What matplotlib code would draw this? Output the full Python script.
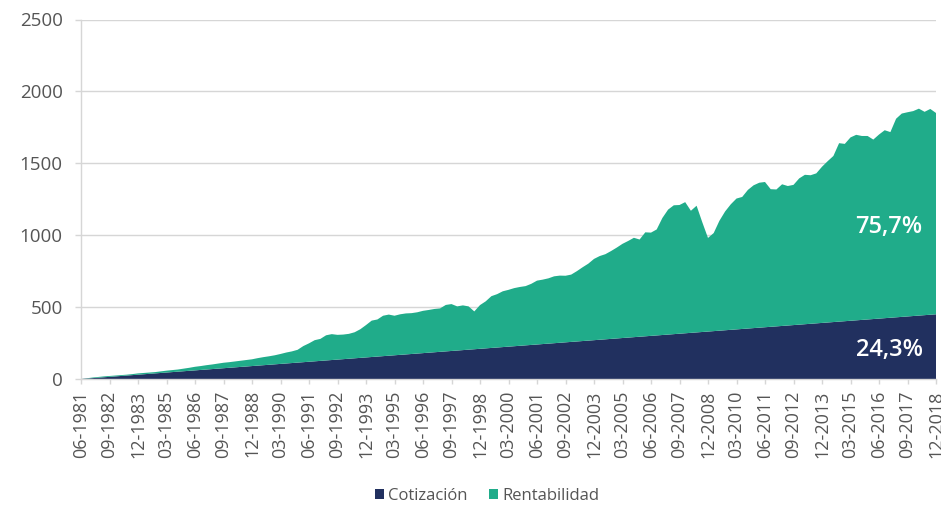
import matplotlib.pyplot as plt
from matplotlib.patches import Patch

# months since 06-1981, one point per quarter
months = list(range(0, 451, 3))

# total value (cotizacion + rentabilidad)
total = [
    0, 5, 10, 14, 18, 21, 24, 27, 30, 34,
    39, 42, 45, 48, 53, 58, 62, 66, 72, 78,
    85, 90, 96, 101, 107, 113, 117, 122, 127, 132,
    137, 145, 152, 158, 165, 174, 184, 192, 203, 229,
    248, 270, 279, 304, 312, 307, 309, 314, 325, 346,
    375, 406, 414, 440, 448, 440, 450, 456, 458, 464,
    474, 480, 487, 491, 515, 521, 505, 512, 505, 470,
    514, 540, 576, 590, 610, 620, 632, 640, 646, 662,
    684, 691, 700, 714, 719, 718, 726, 750, 777, 802,
    835, 855, 868, 890, 914, 940, 960, 982, 970, 1020,
    1018, 1040, 1120, 1178, 1208, 1210, 1230, 1170, 1205, 1090,
    981, 1015, 1100, 1165, 1215, 1255, 1266, 1315, 1347, 1365,
    1370, 1320, 1318, 1354, 1342, 1350, 1395, 1420, 1417, 1430,
    1476, 1515, 1551, 1640, 1635, 1680, 1698, 1690, 1690, 1665,
    1700, 1730, 1717, 1810, 1846, 1855, 1863, 1880, 1858, 1878,
    1850,
]

# accumulated contributions (straight line on the chart)
cotizacion = [
    0, 3, 6, 9, 12, 15, 18, 21, 24, 27,
    30, 33, 36, 39, 42, 45, 48, 51, 54, 57,
    60, 63, 66, 69, 72, 75, 78, 81, 84, 87,
    90, 93, 96, 99, 102, 105, 108, 111, 114, 117,
    120, 123, 126, 129, 132, 135, 138, 141, 144, 147,
    150, 153, 156, 159, 162, 165, 168, 171, 174, 177,
    180, 183, 186, 189, 192, 195, 198, 201, 204, 207,
    210, 213, 216, 219, 222, 225, 228, 231, 234, 237,
    240, 243, 246, 249, 252, 255, 258, 261, 264, 267,
    270, 273, 276, 279, 282, 285, 288, 291, 294, 297,
    300, 303, 306, 309, 312, 315, 318, 321, 324, 327,
    330, 333, 336, 339, 342, 345, 348, 351, 354, 357,
    360, 363, 366, 369, 372, 375, 378, 381, 384, 387,
    390, 393, 396, 399, 402, 405, 408, 411, 414, 417,
    420, 423, 426, 429, 432, 435, 438, 441, 444, 447,
    450,
]

rentabilidad = [t - c for t, c in zip(total, cotizacion)]

tick_labels = [
    '06-1981', '09-1982', '12-1983', '03-1985', '06-1986', '09-1987',
    '12-1988', '03-1990', '06-1991', '09-1992', '12-1993', '03-1995',
    '06-1996', '09-1997', '12-1998', '03-2000', '06-2001', '09-2002',
    '12-2003', '03-2005', '06-2006', '09-2007', '12-2008', '03-2010',
    '06-2011', '09-2012', '12-2013', '03-2015', '06-2016', '09-2017',
    '12-2018',
]
tick_pos = list(range(0, 451, 15))

pct_labels = ['24,3%', '75,7%']

navy = '#21305f'
teal = '#20ac8a'
grey_text = '#555555'
grey_line = '#d6d6d6'

plt.rcParams['font.family'] = ['Open Sans', 'DejaVu Sans']

fig = plt.figure(figsize=(9.41, 5.07), dpi=100)
ax = fig.add_axes([81 / 941, 1 - 379 / 507, 855 / 941, 359.5 / 507])

ax.stackplot(months, cotizacion, rentabilidad, colors=[navy, teal],
             linewidth=0, zorder=2)

ax.set_xlim(0, 450)
ax.set_ylim(0, 2500)
ax.set_yticks([0, 500, 1000, 1500, 2000, 2500])
ax.set_xticks(tick_pos)
ax.set_xticklabels(tick_labels, rotation=90)

ax.grid(axis='y', color=grey_line, linewidth=1, zorder=0)
ax.set_axisbelow(True)
for side in ['top', 'right']:
    ax.spines[side].set_visible(False)
for side in ['left', 'bottom']:
    ax.spines[side].set_color(grey_line)
    ax.spines[side].set_linewidth(1)

ax.tick_params(axis='y', length=4.3, width=1, color=grey_line, pad=9,
               labelsize=13.5, labelcolor=grey_text)
ax.tick_params(axis='x', length=3.6, width=1, color=grey_line, pad=4.5,
               labelsize=13, labelcolor=grey_text)

# share labels on the right end of each band
ax.text(443, 200, pct_labels[0], color='white', fontsize=17, fontweight='semibold',
        ha='right', va='center', zorder=3)
ax.text(443, 1060, pct_labels[1], color='white', fontsize=17, fontweight='semibold',
        ha='right', va='center', zorder=3)

handles = [Patch(facecolor=navy, label='Cotización'),
           Patch(facecolor=teal, label='Rentabilidad')]
fig.legend(handles=handles, loc='center', bbox_to_anchor=(487 / 941, 1 - 496 / 507),
           ncol=2, frameon=False, fontsize=12, labelcolor=grey_text,
           handlelength=0.55, handleheight=0.55, handletextpad=0.25,
           columnspacing=1.3)

fig.savefig('out.png', dpi=100)
